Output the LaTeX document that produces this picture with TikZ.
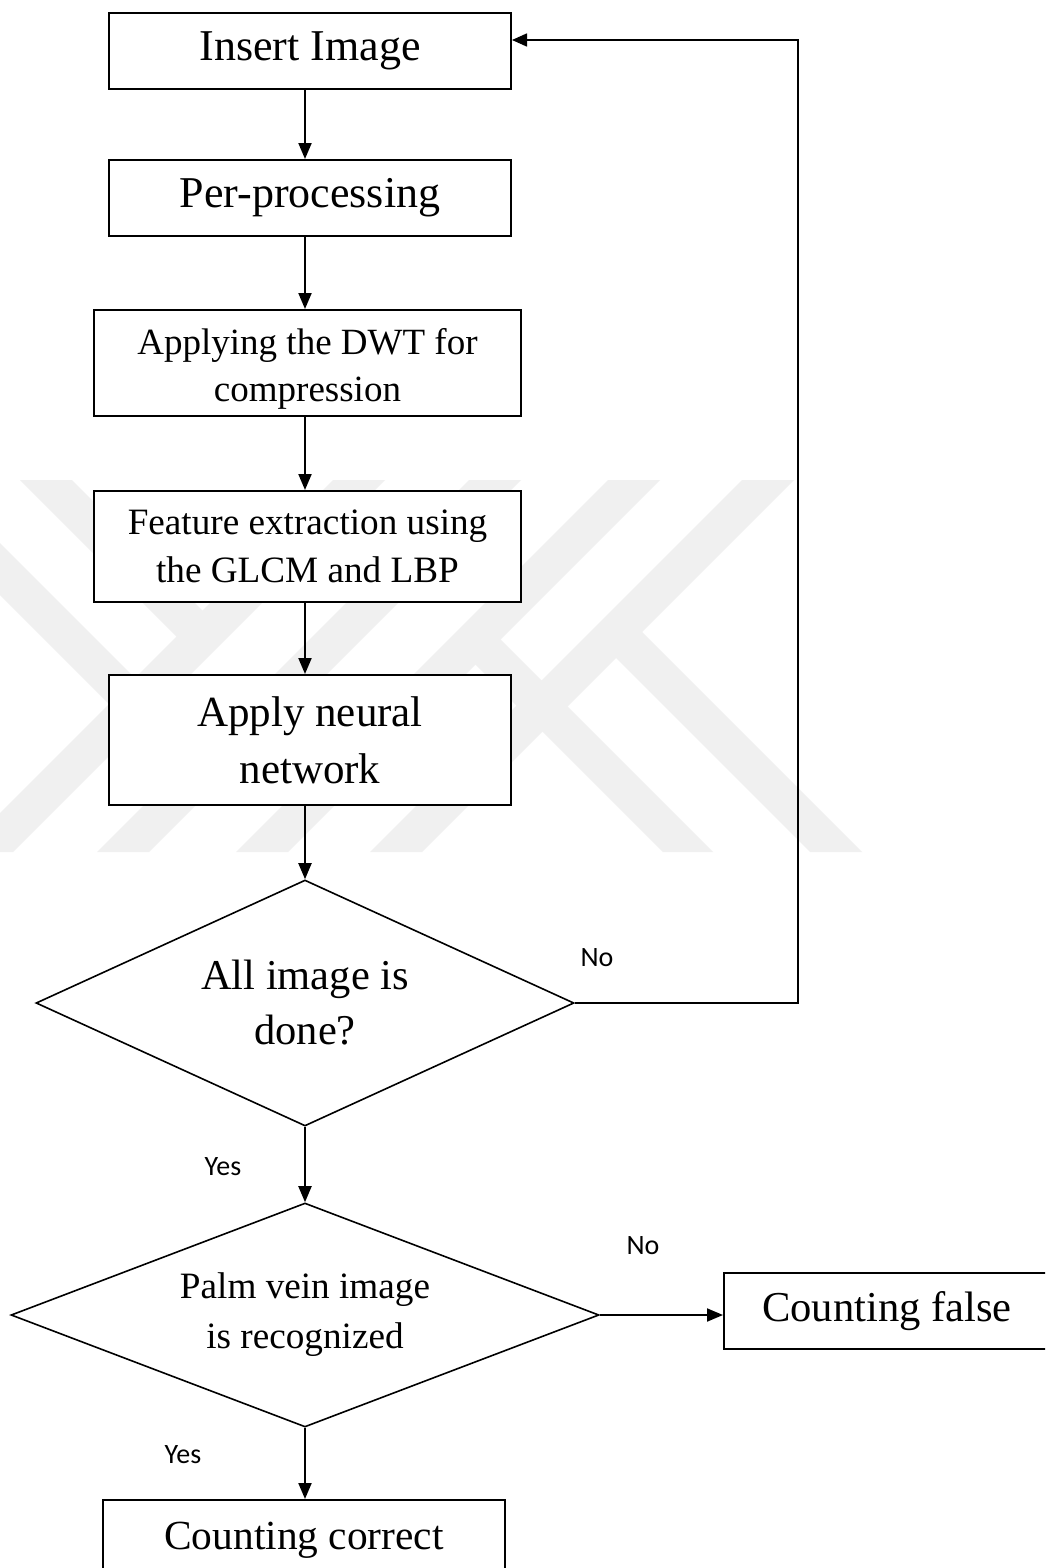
\documentclass[tikz,border=0pt]{standalone}
\usepackage{fontspec}
\setmainfont{Liberation Serif}
\newfontfamily\lblfont{Carlito}
\usetikzlibrary{shapes.geometric,arrows.meta}

\begin{document}
\begin{tikzpicture}[x=0.5pt,y=-0.5pt,
  box/.style={draw,fill=white,line width=1pt,inner sep=0pt,align=center},
  decision/.style={draw,diamond,line width=0.8pt,inner sep=0pt,align=center},
  flow/.style={line width=1pt,-{Triangle[length=8pt,width=6.5pt]}},
  loopline/.style={line width=0.8pt,-{Triangle[length=7.5pt,width=6.5pt]}},
  lbl/.style={font=\lblfont\fontsize{14pt}{16pt}\selectfont,inner sep=0pt},
  wmband/.style={fill=black!6,draw=none}
]
\useasboundingbox (0,0) rectangle (1045,1568);
\clip (0,0) rectangle (1045,1568);
\fill[white] (0,0) rectangle (1045,1568);

% faint background emblem made of diagonal bands
\foreach \a in {333,469,608,742}{
  \path[wmband] (\a,480) -- (\a+52,480) -- (\a+52-372,852) -- (\a-372,852) -- cycle;
}
\path[wmband] (810,852) -- (862,852) -- (628.75,618.75) -- (602.75,644.75) -- cycle;
\path[wmband] (663,852) -- (713,852) -- (487.5,626.5) -- (462.5,651.5) -- cycle;
\path[wmband] (20,480) -- (72,480) -- (215.5,623.5) -- (189.5,649.5) -- cycle;
\path[wmband] (0,543) -- (148,691) -- (122,717) -- (0,595) -- cycle;

% process boxes
\node[box,minimum width=201pt,minimum height=38pt,font=\fontsize{22pt}{26pt}\selectfont]
  (ins) at (310,51) {Insert Image};
\node[box,minimum width=201pt,minimum height=38pt,font=\fontsize{22pt}{26pt}\selectfont]
  (pre) at (310,198) {Per-processing};
\node[box,minimum width=213.5pt,minimum height=53pt,font=\fontsize{18.5pt}{23.5pt}\selectfont]
  (dwt) at (307.5,363) {\rule{0pt}{19.4pt}Applying the DWT for\\compression};
\node[box,minimum width=213.5pt,minimum height=55.5pt,font=\fontsize{18.6pt}{24pt}\selectfont]
  (feat) at (307.5,546.5) {Feature extraction using\\the GLCM and LBP};
\node[box,minimum width=201pt,minimum height=65pt,font=\fontsize{21.5pt}{28.5pt}\selectfont]
  (ann) at (310,740) {Apply neural\\network};

% decisions
\node[decision,aspect=2.19,minimum width=269pt,minimum height=123pt,font=\fontsize{21.25pt}{27.5pt}\selectfont]
  (d1) at (305,1003) {All image is\\done?};
\node[decision,aspect=2.6,minimum width=294pt,minimum height=112pt,font=\fontsize{18.6pt}{25pt}\selectfont]
  (d2) at (305,1315) {Palm vein image\\is recognized};

% outcomes
\node[box,minimum width=163pt,minimum height=38pt,font=\fontsize{21.3pt}{25pt}\selectfont]
  (cf) at (887,1311) {Counting false};
\node[box,minimum width=201pt,minimum height=40pt,font=\fontsize{20.7pt}{24pt}\selectfont]
  (cc) at (304,1540) {Counting correct};

% main flow
\draw[flow] (ins.south -| d1.north) -- (pre.north -| d1.north);
\draw[flow] (pre.south -| d1.north) -- (dwt.north -| d1.north);
\draw[flow] (dwt.south -| d1.north) -- (feat.north -| d1.north);
\draw[flow] (feat.south -| d1.north) -- (ann.north -| d1.north);
\draw[flow] (ann.south -| d1.north) -- (d1.north);
\draw[flow] (d1.south) -- (d2.north);
\draw[flow] (d2.south) -- (cc.north -| d2.south);
\draw[flow] (d2.east) -- (cf.west |- d2.east);

% loop back for the next image
\coordinate (fbtop) at (798,40);
\draw[loopline] (d1.east) -- (d1.east -| fbtop) -- (fbtop) -- (ins.east |- fbtop);

% branch labels
\node[lbl] (no1) at (597,958) {No};
\node[lbl] (no2) at (643,1246) {No};
\node[lbl] (yes1) at (223,1167) {Yes};
\node[lbl] (yes2) at (183,1455) {Yes};
\end{tikzpicture}
\end{document}
